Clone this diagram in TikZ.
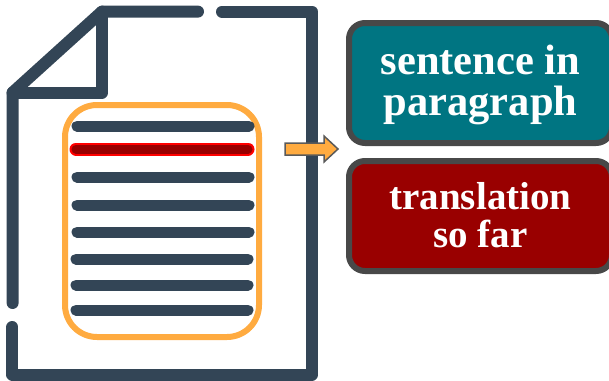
\documentclass[tikz,border=0pt]{standalone}
\usepackage{fontspec}
\setmainfont{Liberation Serif}
\definecolor{docblue}{HTML}{334556}
\definecolor{orng}{HTML}{FFAB40}
\definecolor{teal2}{HTML}{007582}
\definecolor{dred}{HTML}{990000}
\definecolor{edge}{HTML}{484848}
\tikzset{
  x=1pt,y=-1pt,
  docline/.style={draw=docblue,line width=12pt,line cap=round,line join=round},
  textline/.style={draw=docblue,line width=11pt,line cap=round},
  labelbox/.style={draw=edge,line width=6pt,rounded corners=16pt,text=white,align=center,
    inner sep=0pt,outer sep=0pt,anchor=north west,minimum width=263pt},
}
\begin{document}
\begin{tikzpicture}
\useasboundingbox[clip] (0,0) rectangle (609,380);
% document outline
\draw[docline] (222,11.6) -- (312,11.6) -- (312,374.5) -- (12.4,374.5) -- (12.4,327);
\draw[docline] (12.6,303) -- (12.6,92.5) -- (102,11.6) -- (198,11.6);
\draw[docline] (102,11.6) -- (102,92.5) -- (12.6,92.5);
% paragraph frame
\draw[orng,line width=6pt,rounded corners=32pt] (65,105) rectangle (259,337);
% text lines
\foreach \yy/\dx in {126/0,177/0,205/0,232/0,259/-1,285/-1,310/-1}
  \draw[textline] (77+\dx,\yy) -- (249+\dx,\yy);
\draw[red,line width=13pt,line cap=round] (76,149) -- (248,149);
\draw[dred,line width=9pt,line cap=round] (76,149) -- (248,149);
% arrow
\draw[fill=orng,draw=edge!90,line width=1.5pt,line join=miter]
  (285,143) -- (324,143) -- (324,136) -- (338,149) -- (324,162) -- (324,155) -- (285,155) -- cycle;
% boxes
\node[labelbox,fill=teal2,minimum height=120pt,text height=72.5pt,text depth=8.5pt,font=\bfseries\fontsize{42.5}{41}\selectfont] (src) at (349,23) {sentence in\\paragraph};
\node[labelbox,fill=dred,minimum height=110pt,text height=62.5pt,text depth=0.5pt,font=\bfseries\fontsize{39}{38}\selectfont] (tgt) at (349,161) {translation\\so far};
\end{tikzpicture}
\end{document}
